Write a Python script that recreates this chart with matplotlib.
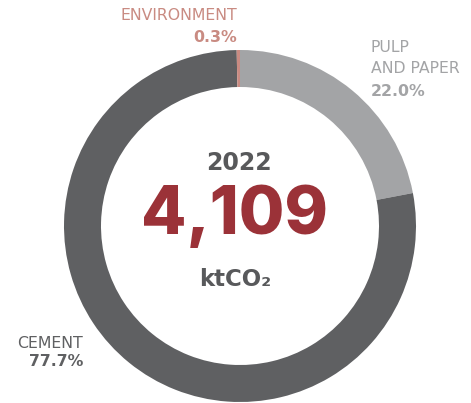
import matplotlib
matplotlib.use("Agg")
import matplotlib.pyplot as plt

# Emissions share by sector
sectors = ["PULP\nAND PAPER", "CEMENT", "ENVIRONMENT"]
shares = [22.0, 77.7, 0.3]
colors = ["#a3a4a6", "#5f6062", "#c98b82"]
year = "2022"
total = 4109
unit = "ktCO₂"

W, H = 471, 403
fig = plt.figure(figsize=(W / 100, H / 100), dpi=100)
ax = fig.add_axes([0, 0, 1, 1])

cx, cy = 240, H - 226
ax.pie(shares, colors=colors, startangle=90, counterclock=False,
       center=(cx, cy), radius=176, frame=True,
       wedgeprops=dict(width=37, linewidth=0))
ax.set_xlim(0, W)
ax.set_ylim(0, H)
ax.set_aspect("equal")
ax.axis("off")

fam = ["DejaVu Sans"]
dark = "#58595b"
lab = 11.3

ax.text(cx - 1, H - 163, year, ha="center", va="center", fontsize=17,
        fontweight="bold", color=dark, family=fam)
ax.text(cx - 5, H - 216, f"{total:,}", ha="center", va="center", fontsize=47.5,
        fontweight="heavy", color="#9b3238", family=["Inter", "DejaVu Sans"])
ax.text(cx - 5, H - 280, unit, ha="center", va="center", fontsize=16.5,
        fontweight="bold", color=dark, family=fam)

# Sector labels
ax.text(237, H - 16, sectors[2], ha="right", va="center", fontsize=lab,
        color="#c98b82", family=fam)
ax.text(237, H - 37, f"{shares[2]:.1f}%", ha="right", va="center", fontsize=lab,
        fontweight="bold", color="#c98b82", family=fam)

ax.text(371, H - 58, sectors[0], ha="left", va="center", fontsize=lab,
        color="#a3a4a6", family=fam, linespacing=1.45)
ax.text(371, H - 91, f"{shares[0]:.1f}%", ha="left", va="center", fontsize=lab,
        fontweight="bold", color="#a3a4a6", family=fam)

ax.text(83, H - 343, sectors[1], ha="right", va="center", fontsize=lab,
        color="#5f6062", family=fam)
ax.text(83, H - 362, f"{shares[1]:.1f}%", ha="right", va="center", fontsize=lab,
        fontweight="bold", color="#5f6062", family=fam)

fig.savefig("out.png", dpi=100, facecolor="white")
